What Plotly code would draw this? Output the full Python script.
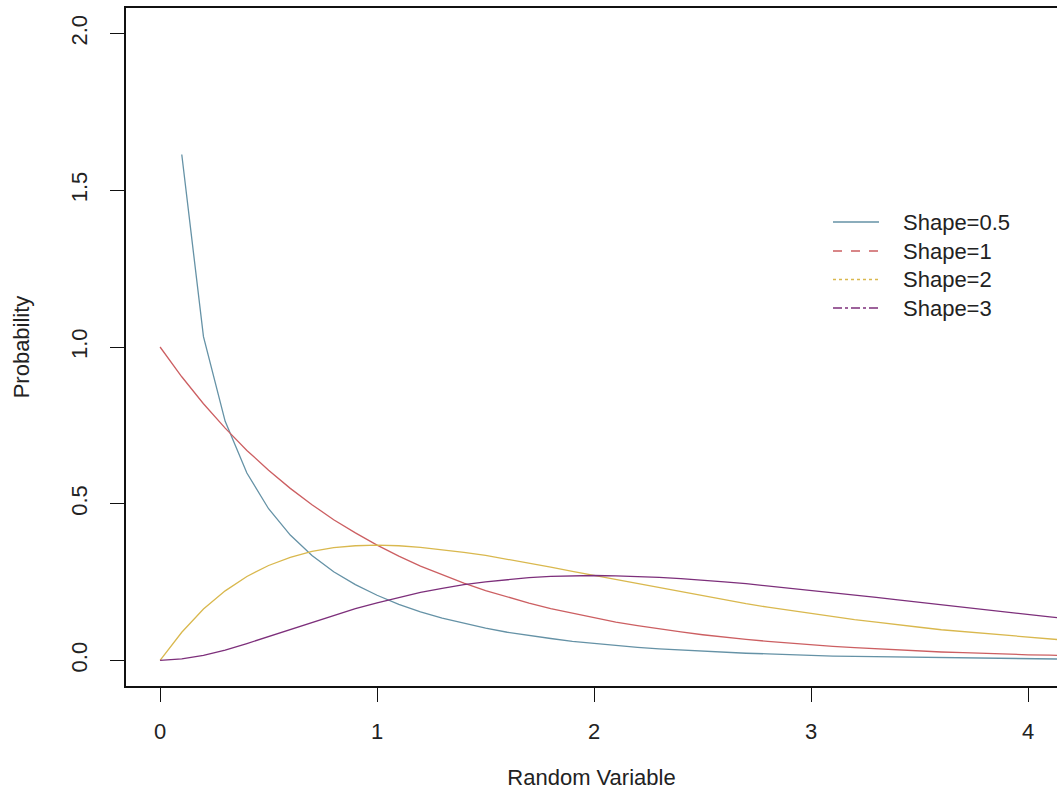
import plotly.graph_objects as go

# ---- data ----
x_vals = [0.0, 0.1, 0.2, 0.3, 0.4, 0.5, 0.6, 0.7, 0.8, 0.9,
          1.0, 1.1, 1.2, 1.3, 1.4, 1.5, 1.6, 1.7, 1.8, 1.9,
          2.0, 2.1, 2.2, 2.3, 2.4, 2.5, 2.6, 2.7, 2.8, 2.9,
          3.0, 3.1, 3.2, 3.3, 3.4, 3.5, 3.6, 3.7, 3.8, 3.9,
          4.0, 4.1, 4.2]

shape_05 = [None, 1.614, 1.033, 0.763, 0.598, 0.484, 0.400, 0.335, 0.283, 0.242,
            0.208, 0.179, 0.155, 0.135, 0.118, 0.103, 0.090, 0.079, 0.070, 0.061,
            0.054, 0.048, 0.042, 0.037, 0.033, 0.029, 0.026, 0.023, 0.021, 0.018,
            0.016, 0.014, 0.013, 0.012, 0.010, 0.009, 0.008, 0.007, 0.007, 0.006,
            0.005, 0.005, 0.004]

shape_1 = [1.000, 0.905, 0.819, 0.741, 0.670, 0.607, 0.549, 0.497, 0.449, 0.407,
           0.368, 0.333, 0.301, 0.273, 0.247, 0.223, 0.202, 0.183, 0.165, 0.150,
           0.135, 0.122, 0.111, 0.100, 0.091, 0.082, 0.074, 0.067, 0.061, 0.055,
           0.050, 0.045, 0.041, 0.037, 0.033, 0.030, 0.027, 0.025, 0.022, 0.020,
           0.018, 0.017, 0.015]

shape_2 = [0.000, 0.090, 0.164, 0.222, 0.268, 0.303, 0.329, 0.348, 0.360, 0.366,
           0.368, 0.366, 0.361, 0.354, 0.345, 0.335, 0.323, 0.311, 0.298, 0.284,
           0.271, 0.257, 0.244, 0.231, 0.218, 0.205, 0.193, 0.181, 0.170, 0.160,
           0.149, 0.140, 0.130, 0.122, 0.113, 0.106, 0.098, 0.092, 0.085, 0.079,
           0.073, 0.068, 0.063]

shape_3 = [0.000, 0.005, 0.016, 0.033, 0.054, 0.076, 0.099, 0.122, 0.144, 0.165,
           0.184, 0.201, 0.217, 0.230, 0.242, 0.251, 0.258, 0.264, 0.268, 0.270,
           0.271, 0.270, 0.268, 0.265, 0.261, 0.257, 0.251, 0.245, 0.238, 0.231,
           0.224, 0.217, 0.209, 0.201, 0.193, 0.185, 0.177, 0.169, 0.162, 0.154,
           0.147, 0.139, 0.132]

series_names = ["Shape=0.5", "Shape=1", "Shape=2", "Shape=3"]
series_values = [shape_05, shape_1, shape_2, shape_3]
series_colors = ["#6592a6", "#cc5f62", "#d9b84e", "#7d2f7b"]
legend_dashes = ["solid", "dash", "dot", "dashdot"]

x_ticks = [0, 1, 2, 3, 4]
y_ticks = [0.0, 0.5, 1.0, 1.5, 2.0]

FONT = "Liberation Sans, Arial, sans-serif"
W, H = 1057, 805
L, R, T, B = 126, 0, 8, 119
pw, ph = W - L - R, H - T - B

fig = go.Figure()
for name, vals, col in zip(series_names, series_values, series_colors):
    fig.add_trace(go.Scatter(x=x_vals, y=vals, mode="lines", name=name,
                             line=dict(color=col, width=1.3), showlegend=False,
                             connectgaps=False, hoverinfo="skip"))

# legend: line samples + labels
def px_x(p):
    return (p - L) / pw

def px_y(p):
    return (H - B - p) / ph

row_y = [222, 251, 279.5, 308]
for name, col, dash, ry in zip(series_names, series_colors, legend_dashes, row_y):
    fig.add_shape(type="line", xref="paper", yref="paper",
                  x0=px_x(833), x1=px_x(879), y0=px_y(ry), y1=px_y(ry),
                  line=dict(color=col, width=1.3, dash=dash))
    fig.add_annotation(xref="paper", yref="paper", x=px_x(901), y=px_y(ry),
                       text=name, showarrow=False, xanchor="left", yanchor="middle",
                       font=dict(family=FONT, size=22, color="#222222"))

fig.update_layout(
    width=W, height=H,
    margin=dict(l=L, r=R, t=T, b=B, pad=0),
    paper_bgcolor="white", plot_bgcolor="white",
    font=dict(family=FONT, size=22, color="#222222"),
    showlegend=False,
    xaxis=dict(range=[-0.157, 4.133], tickvals=x_ticks, ticktext=[str(v) for v in x_ticks],
               showgrid=False, zeroline=False, showline=True, mirror=True,
               linecolor="#111111", linewidth=1.5, ticks="outside", ticklen=14,
               tickwidth=1.3, tickcolor="#111111", tickfont=dict(size=22),
               ticklabelstandoff=11,
               title=dict(text="Random Variable", font=dict(size=22), standoff=26)),
    yaxis=dict(range=[-0.0815, 2.0815], tickvals=y_ticks, ticktext=[f"{v:.1f}" for v in y_ticks],
               showgrid=False, zeroline=False, showline=True, mirror=False,
               linecolor="#111111", linewidth=1.5, ticks="outside", ticklen=14,
               tickwidth=1.3, tickcolor="#111111", tickfont=dict(size=22),
               tickangle=-90, ticklabelstandoff=14,
               title=dict(text="Probability", font=dict(size=22), standoff=32)),
)

fig.write_html("out.html")
